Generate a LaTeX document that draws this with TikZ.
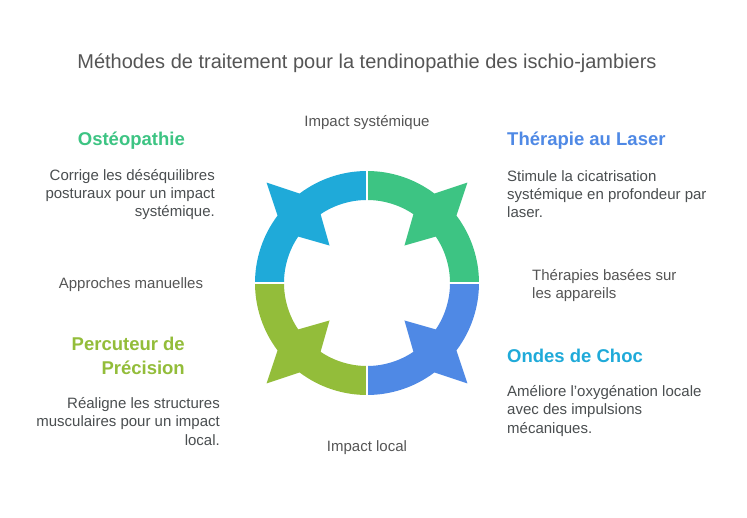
\documentclass[tikz,border=0pt]{standalone}
\usepackage{fontspec}
\setmainfont{Liberation Sans}
\definecolor{cA}{HTML}{1FAAD9}
\definecolor{cB}{HTML}{3DC483}
\definecolor{cC}{HTML}{4F89E5}
\definecolor{cD}{HTML}{93BD3A}
\definecolor{txt}{HTML}{4A4E50}
\definecolor{ttl}{HTML}{555555}
\begin{document}
\begin{tikzpicture}[x=1pt,y=-1pt,
  body/.style={font=\fontsize{15}{18}\selectfont, text=txt, inner sep=0pt},
  head/.style={font=\fontsize{18.5}{24}\selectfont\bfseries, inner sep=0pt},
  lbl/.style={font=\fontsize{15}{18}\selectfont, text=ttl, inner sep=0pt},
  gap/.style={white, line width=2pt}]
\fill[white] (0,0) rectangle (747,518);
\useasboundingbox (0,0) rectangle (747,518);

\coordinate (C) at (367,283);
\begin{scope}[shift={(C)}]
\foreach \b/\col in {90/cA, 0/cB, 270/cC, 180/cD} {
  \pgfmathsetmacro{\m}{\b+45}
  \fill[\col] (\b:83pt) -- (\b:112pt)
     arc[start angle=\b, end angle=\m-8, radius=112pt]
     -- (\m:142pt) -- ({\m+8}:112pt)
     arc[start angle=\m+8, end angle=\b+90, radius=112pt]
     -- ({\b+90}:83pt)
     arc[start angle=\b+90, end angle=\m+11, radius=83pt]
     -- (\m:53pt) -- ({\m-11}:83pt)
     arc[start angle=\m-11, end angle=\b, radius=83pt] -- cycle;
}
\foreach \a in {0,90,180,270} {
  \draw[gap] (\a:78pt) -- (\a:117pt);
}
\end{scope}

\node[font=\fontsize{20}{24}\selectfont, text=ttl, inner sep=0pt, anchor=base] (title) at (367,69)
  {Méthodes de traitement pour la tendinopathie des ischio-jambiers};

\node[lbl, anchor=base] (imps) at (367,127) {Impact systémique};
\node[lbl, anchor=base] (impl) at (367,451) {Impact local};
\node[lbl, anchor=base] (appm) at (131,289) {Approches manuelles};
\node[lbl, align=left, anchor=base west] (appa) at (532,299) {Thérapies basées sur\\les appareils};

\node[head, text=cB, anchor=base east] (osth) at (185,146) {Ostéopathie};
\node[body, align=right, anchor=base east] (ostb) at (215,217)
  {Corrige les déséquilibres\\posturaux pour un impact\\systémique.};

\node[head, text=cD, align=right, anchor=base east] (perh) at (185,375) {Percuteur de\\Précision};
\node[body, align=right, anchor=base east] (perb) at (220,445)
  {Réaligne les structures\\musculaires pour un impact\\local.};

\node[head, text=cC, anchor=base west] (lash) at (507,146) {Thérapie au Laser};
\node[body, align=left, anchor=base west] (lasb) at (507,218)
  {Stimule la cicatrisation\\systémique en profondeur par\\laser.};

\node[head, text=cA, anchor=base west] (ondh) at (507,363) {Ondes de Choc};
\node[body, align=left, anchor=base west] (ondb) at (507,433)
  {Améliore l'oxygénation locale\\avec des impulsions\\mécaniques.};
\end{tikzpicture}
\end{document}
